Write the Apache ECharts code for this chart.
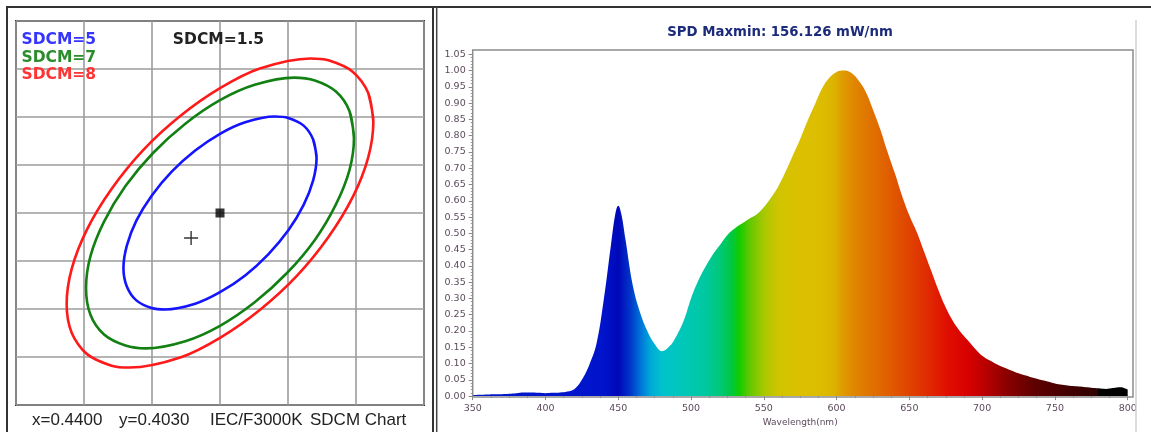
<!DOCTYPE html>
<html><head><meta charset="utf-8">
<script src="https://cdn.jsdelivr.net/npm/echarts@6/dist/echarts.min.js"></script>
<style>html,body{margin:0;padding:0;background:#fff}#c{width:1151px;height:432px}</style>
</head><body><div id="c"></div>
<script>
// ---- SDCM chart data (chromaticity x, y), points read along each drawn ellipse ----
const centerPoint = [0.44, 0.403];
const measuredPoint = [0.43915, 0.40248];
const ellipse5 = [[0.44284,0.40415],[0.44274,0.40453],[0.44246,0.40482],[0.44201,0.40498],[0.44161,0.40501],[0.44074,0.40489],[0.44000,0.40465],[0.43927,0.40430],[0.43858,0.40386],[0.43799,0.40336],[0.43754,0.40284],[0.43726,0.40232],[0.43716,0.40185],[0.43726,0.40147],[0.43754,0.40118],[0.43799,0.40102],[0.43839,0.40099],[0.43927,0.40111],[0.44000,0.40135],[0.44074,0.40170],[0.44142,0.40214],[0.44201,0.40264],[0.44246,0.40317],[0.44274,0.40368]];
const ellipse7 = [[0.44394,0.40456],[0.44381,0.40512],[0.44341,0.40553],[0.44279,0.40576],[0.44218,0.40582],[0.44102,0.40567],[0.44000,0.40535],[0.43898,0.40486],[0.43803,0.40425],[0.43722,0.40356],[0.43659,0.40282],[0.43619,0.40210],[0.43606,0.40144],[0.43619,0.40088],[0.43659,0.40047],[0.43722,0.40024],[0.43782,0.40018],[0.43898,0.40033],[0.44000,0.40065],[0.44102,0.40114],[0.44197,0.40175],[0.44279,0.40244],[0.44341,0.40318],[0.44381,0.40390]];
const ellipse8 = [[0.44451,0.40490],[0.44436,0.40550],[0.44391,0.40594],[0.44319,0.40618],[0.44266,0.40622],[0.44117,0.40601],[0.44000,0.40560],[0.43883,0.40502],[0.43774,0.40431],[0.43681,0.40350],[0.43609,0.40266],[0.43564,0.40184],[0.43549,0.40110],[0.43564,0.40050],[0.43609,0.40006],[0.43681,0.39982],[0.43734,0.39978],[0.43883,0.39999],[0.44000,0.40040],[0.44117,0.40098],[0.44226,0.40169],[0.44319,0.40250],[0.44391,0.40334],[0.44436,0.40416]];

// ---- SPD data ----
const wavelengths = [350,355,360,365,370,375,380,385,390,395,400,405,410,415,420,425,430,435,440,445,448,450,452,455,460,465,470,475,480,485,490,495,500,505,510,515,520,525,530,535,540,545,550,555,560,565,570,575,580,585,590,595,600,605,610,615,620,625,630,635,640,645,650,655,660,665,670,675,680,685,690,695,700,705,710,715,720,725,730,735,740,745,750,755,760,765,770,775,780,785,790,795,800];
const spdValues = [0.003,0.004,0.005,0.006,0.006,0.007,0.009,0.011,0.011,0.010,0.009,0.010,0.011,0.014,0.022,0.050,0.095,0.160,0.295,0.465,0.560,0.585,0.562,0.480,0.340,0.257,0.200,0.160,0.138,0.152,0.185,0.232,0.300,0.355,0.398,0.435,0.465,0.495,0.515,0.530,0.545,0.558,0.580,0.610,0.645,0.690,0.740,0.790,0.845,0.895,0.945,0.978,0.996,1.000,0.993,0.970,0.935,0.880,0.820,0.750,0.685,0.615,0.555,0.505,0.445,0.385,0.325,0.272,0.230,0.198,0.172,0.146,0.124,0.110,0.098,0.088,0.079,0.070,0.063,0.056,0.050,0.045,0.039,0.035,0.032,0.030,0.028,0.026,0.024,0.022,0.025,0.027,0.020];
const yTicks = {min:0, max:1.05, step:0.05};
const xTicks = {min:350, max:800, step:50};

// spectral colours by wavelength (style)
const spectrumColors = [[350,'#0018cc'],[440,'#0014cc'],[450,'#0008b8'],[458,'#0034c8'],[465,'#0070d8'],[472,'#00a8d8'],[480,'#00c2cc'],[495,'#00c8b8'],[510,'#00c8a0'],[520,'#00c878'],[528,'#00c840'],[533,'#10cc00'],[540,'#60c800'],[550,'#a8c800'],[560,'#d0c400'],[575,'#dcc000'],[590,'#dcbc00'],[598,'#dcb400'],[605,'#e09800'],[615,'#e08000'],[630,'#e06800'],[645,'#e04c00'],[660,'#e03000'],[675,'#e01000'],[690,'#d80000'],[700,'#c00000'],[715,'#900000'],[735,'#600000'],[760,'#420000'],[779.5,'#300000'],[780,'#000000'],[800,'#000000']];

const spdData = wavelengths.map((w,i)=>[w, spdValues[i]]);
const close = a => a.concat([a[0], a[1]]);
const stops = spectrumColors.map(([w,c])=>({offset:(w-xTicks.min)/(xTicks.max-xTicks.min), color:c}));

const chart = echarts.init(document.getElementById('c'), null, {renderer:'canvas'});
const gridLine = {lineStyle:{color:'#9c9c9c', width:1.6}};
const txt = (text, x, y, font, fill, align) => ({type:'text', x, y, z:100, style:{text, font, fill, align:align||'left', verticalAlign:'middle', textAlign:align||'left', textVerticalAlign:'middle'}});
const line = (x1,y1,x2,y2,color,w) => ({type:'line', shape:{x1,y1,x2,y2}, style:{stroke:color, lineWidth:w}, z:100});

chart.setOption({
  animation:false,
  backgroundColor:'#fff',
  grid:[
    {left:16, top:21, width:408, height:384, show:true, borderColor:'#333', borderWidth:2, backgroundColor:'transparent'},
    {left:472.7, top:54.3, width:655, height:342.4, show:false}
  ],
  xAxis:[
    {type:'value', gridIndex:0, min:0.434, max:0.446, interval:0.002, axisLine:{show:false}, axisTick:{show:false}, axisLabel:{show:false}, splitLine:gridLine},
    {type:'value', gridIndex:1, min:xTicks.min, max:xTicks.max, interval:xTicks.step,
      axisLine:{show:false}, splitLine:{show:false},
      axisTick:{show:true, length:4, lineStyle:{color:'#8a8a8a'}},
      minorTick:{show:true, splitNumber:4, length:2, lineStyle:{color:'#9a9a9a'}},
      axisLabel:{color:'#5c4a5c', fontSize:9.5, fontFamily:'DejaVu Sans', margin:7},
      name:'Wavelength(nm)', nameLocation:'middle', nameGap:20,
      nameTextStyle:{color:'#5c4a5c', fontSize:9, fontFamily:'DejaVu Sans'}}
  ],
  yAxis:[
    {type:'value', gridIndex:0, min:0.399, max:0.407, interval:0.001, axisLine:{show:false}, axisTick:{show:false}, axisLabel:{show:false}, splitLine:gridLine},
    {type:'value', gridIndex:1, min:yTicks.min, max:yTicks.max, interval:yTicks.step,
      axisLine:{show:false}, splitLine:{show:false},
      axisTick:{show:true, length:4, lineStyle:{color:'#8a8a8a'}},
      minorTick:{show:true, splitNumber:5, length:2, lineStyle:{color:'#a0a0a0'}},
      axisLabel:{color:'#5c4a5c', fontSize:9.5, fontFamily:'DejaVu Sans', margin:7, formatter:v=>v.toFixed(2)}}
  ],
  series:[
    {type:'line', xAxisIndex:0, yAxisIndex:0, data:close(ellipse8), smooth:0.3, symbol:'none', lineStyle:{color:'#ff1a1a', width:2.6}, z:5},
    {type:'line', xAxisIndex:0, yAxisIndex:0, data:close(ellipse7), smooth:0.3, symbol:'none', lineStyle:{color:'#128012', width:2.6}, z:5},
    {type:'line', xAxisIndex:0, yAxisIndex:0, data:close(ellipse5), smooth:0.3, symbol:'none', lineStyle:{color:'#1414ff', width:2.6}, z:5},
    {type:'scatter', xAxisIndex:0, yAxisIndex:0, data:[centerPoint], symbol:'rect', symbolSize:9, itemStyle:{color:'#000'}, z:6},
    {type:'scatter', xAxisIndex:0, yAxisIndex:0, data:[measuredPoint], symbol:'path://M5.4,0h1.2v12h-1.2zM0,5.4h12v1.2h-12z', symbolSize:14, itemStyle:{color:'#000'}, z:6},
    {type:'line', xAxisIndex:1, yAxisIndex:1, data:spdData, smooth:0.4, symbol:'none',
      lineStyle:{width:0, opacity:0},
      areaStyle:{opacity:1, color:new echarts.graphic.LinearGradient(0,0,1,0, stops)}, z:3}
  ],
  graphic:[
    {type:'rect', shape:{x:7, y:7, width:426, height:440}, style:{fill:'none', stroke:'#333', lineWidth:2}, z:100},
    line(7,7,1151,7,'#333',2),
    line(436.7,7,436.7,432,'#444',1.5),
    line(1136,20,1136,432,'#d0d0d0',1.5),
    {type:'rect', shape:{x:472.7, y:50, width:660.3, height:347}, style:{fill:'none', stroke:'#8c8c8c', lineWidth:1.5}, z:100},
    txt('SDCM=5', 21.5, 39.5, 'bold 15.5px "DejaVu Sans"', '#3535ff'),
    txt('SDCM=7', 21.5, 57.5, 'bold 15.5px "DejaVu Sans"', '#2a8c2a'),
    txt('SDCM=8', 21.5, 75, 'bold 15.5px "DejaVu Sans"', '#ff3434'),
    txt('SDCM=1.5', 218.5, 39.5, 'bold 15.5px "DejaVu Sans"', '#222', 'center'),
    txt('x=0.4400', 32, 420.5, '17px "Liberation Sans"', '#222'),
    txt('y=0.4030', 119, 420.5, '17px "Liberation Sans"', '#222'),
    txt('IEC/F3000K', 210, 420.5, '17px "Liberation Sans"', '#222'),
    txt('SDCM Chart', 310, 420.5, '17px "Liberation Sans"', '#222'),
    txt('SPD Maxmin: 156.126 mW/nm', 780, 33, 'bold 13.3px "DejaVu Sans"', '#1c2a7a', 'center')
  ]
});
</script></body></html>
